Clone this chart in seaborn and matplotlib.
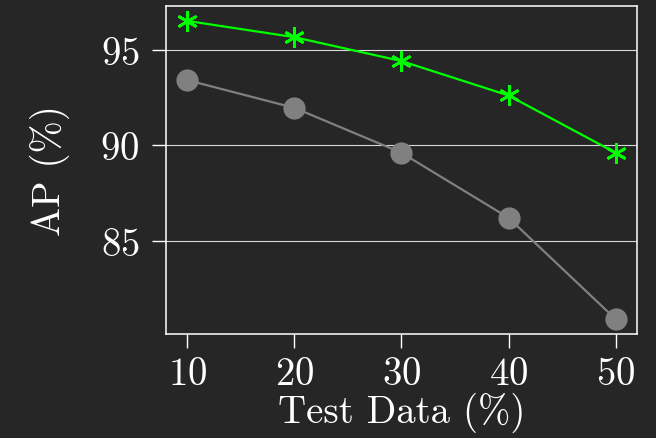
import matplotlib
matplotlib.use("Agg")
import matplotlib.pyplot as plt
import seaborn as sns
import pandas as pd

test_data = [10, 20, 30, 40, 50]
ap_gray = [93.4, 91.95, 89.6, 86.2, 80.9]
ap_green = [96.5, 95.65, 94.4, 92.6, 89.6]

bg = "#262626"
sns.set_style("dark", {
    "axes.facecolor": bg,
    "figure.facecolor": bg,
    "axes.edgecolor": "white",
    "grid.color": "#d9d9d9",
    "xtick.color": "white",
    "ytick.color": "white",
    "text.color": "white",
    "axes.labelcolor": "white",
    "xtick.bottom": True,
    "ytick.left": True,
})
plt.rcParams["font.family"] = ["cmr10", "DejaVu Serif"]
plt.rcParams["axes.formatter.use_mathtext"] = True
plt.rcParams["mathtext.fontset"] = "cm"

df_gray = pd.DataFrame({"x": test_data, "y": ap_gray})
df_green = pd.DataFrame({"x": test_data, "y": ap_green})

fig = plt.figure(figsize=(6.56, 4.39), dpi=100)
ax = fig.add_axes([0.253, 0.237, 0.718, 0.747])

sns.lineplot(data=df_gray, x="x", y="y", ax=ax, color="#808080",
             marker="o", markersize=16, markeredgewidth=0, linewidth=1.6)
sns.lineplot(data=df_green, x="x", y="y", ax=ax, color="#00ff00",
             marker=(6, 2, 0), markersize=15, markeredgewidth=2.0,
             markeredgecolor="#00ff00", linewidth=1.6)

ax.set_xticks(test_data)
ax.set_yticks([85, 90, 95])
ax.yaxis.grid(True, linewidth=0.8)
ax.xaxis.grid(False)
ax.tick_params(axis="both", labelsize=28, length=10, width=1, color="white")
ax.tick_params(axis="x", pad=6)
ax.tick_params(axis="y", pad=9)
for s in ax.spines.values():
    s.set_color("white")
    s.set_linewidth(1.1)

ax.set_xlabel("Test Data (%)", fontsize=28, labelpad=0)
ax.set_ylabel("AP (%)", fontsize=28, labelpad=22)

fig.savefig("out.png", dpi=100, facecolor=bg)
